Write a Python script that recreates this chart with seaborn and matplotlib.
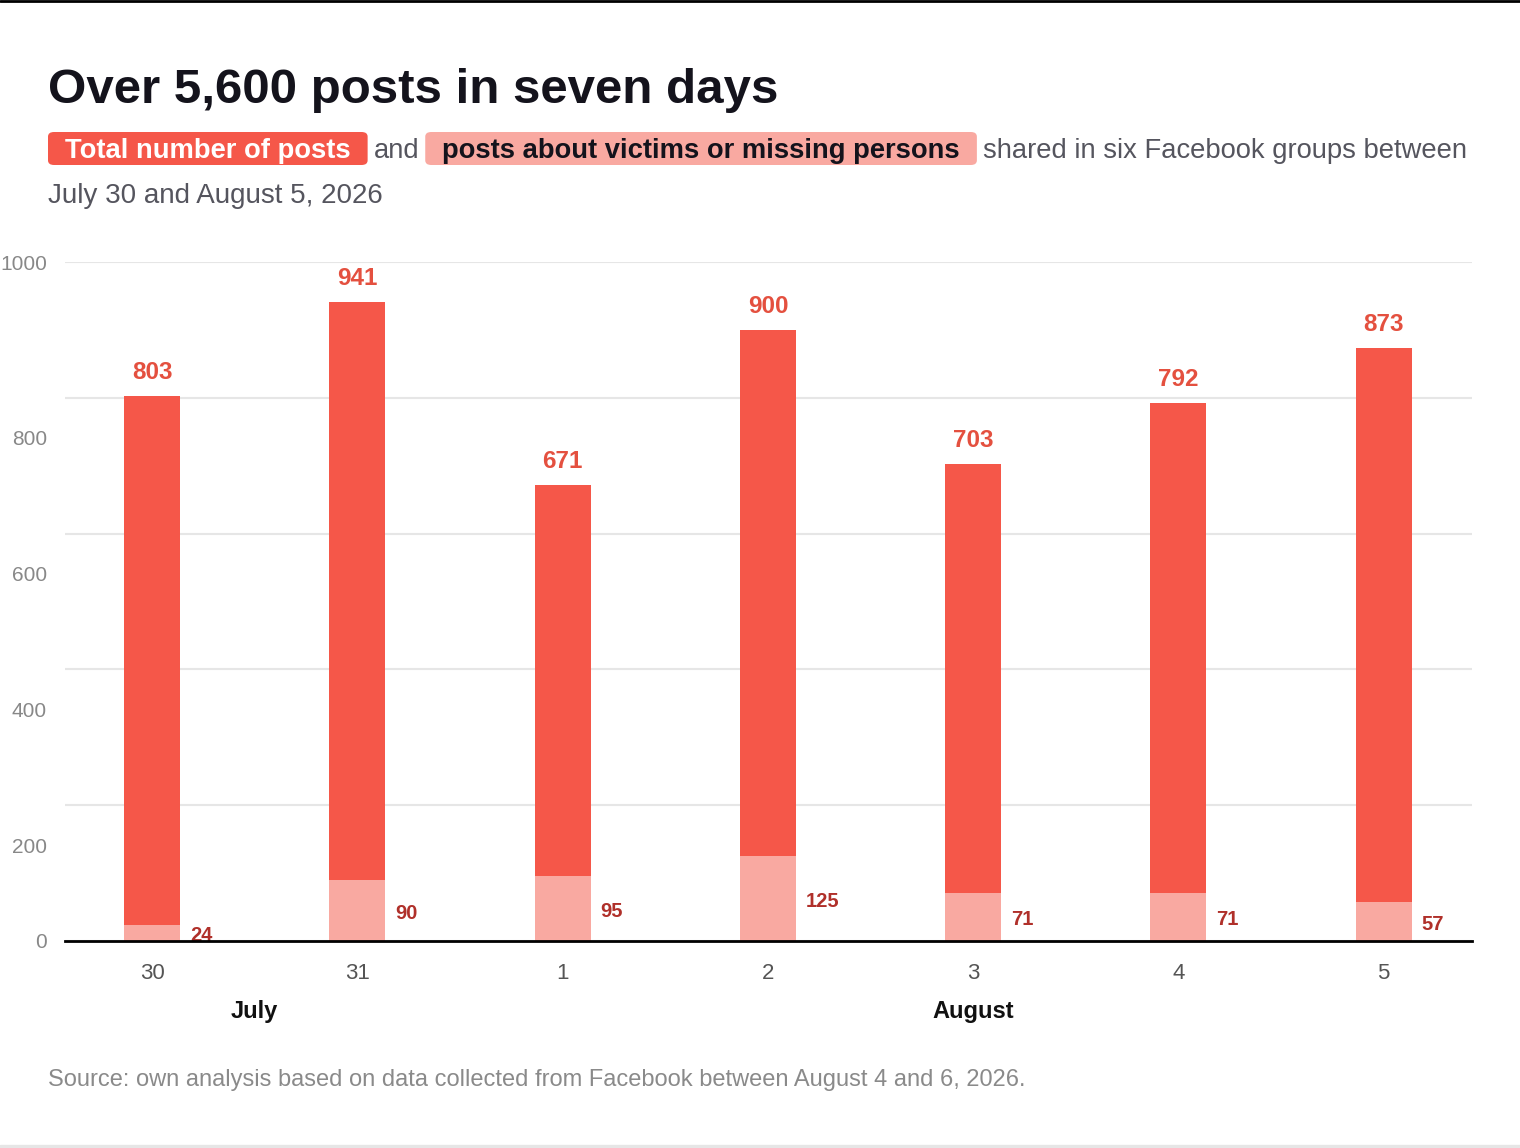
import pandas as pd
import matplotlib
matplotlib.use('Agg')
import matplotlib.pyplot as plt
import seaborn as sns
from matplotlib.patches import FancyBboxPatch, Rectangle
from matplotlib.lines import Line2D
from matplotlib.transforms import ScaledTranslation, blended_transform_factory

# data
days = ['30', '31', '1', '2', '3', '4', '5']
total_posts = [803, 941, 671, 900, 703, 792, 873]
victim_posts = [24, 90, 95, 125, 71, 71, 57]
months = ['July', 'August']
month_centres = [0.5, 4]
y_ticks = [0, 200, 400, 600, 800, 1000]

RED = '#F55749'
PINK = '#F9A9A1'
RED_TXT = '#E4503F'
DARK_RED_TXT = '#B0302A'
W, H = 1520, 1148

sns.set_style('white')
plt.rcParams['font.family'] = ['Liberation Sans', 'DejaVu Sans']

fig = plt.figure(figsize=(W / 100, H / 100), dpi=100)
ax = fig.add_axes([65 / W, 1 - 941 / H, (1472 - 65) / W, (941 - 262) / H])

df = pd.DataFrame({'day': days, 'total': total_posts, 'victims': victim_posts})
sns.barplot(data=df, x='day', y='total', order=days, color=RED, saturation=1,
            width=0.273, errorbar=None, linewidth=0, ax=ax, zorder=2)
sns.barplot(data=df, x='day', y='victims', order=days, color=PINK, saturation=1,
            width=0.273, errorbar=None, linewidth=0, ax=ax, zorder=3)

ax.set_xlim(-0.424, 6.43)
ax.set_ylim(0, 1000)
ax.set_xlabel('')
ax.set_ylabel('')
ax.set_yticks(y_ticks)
ax.yaxis.grid(True, color='#E6E6E6', lw=1.5)
ax.set_axisbelow(True)
for s in ['top', 'right', 'left']:
    ax.spines[s].set_visible(False)
ax.spines['bottom'].set_color('black')
ax.spines['bottom'].set_linewidth(2)
ax.spines['bottom'].set_zorder(5)
ax.tick_params(axis='x', length=0, pad=16, labelsize=16, labelcolor='#555555')
ax.tick_params(axis='y', length=0, pad=13, labelsize=15, labelcolor='#888888')

# the y labels in the original sit 40px under their gridlines (except 0 and 1000)
shift = ScaledTranslation(0, -0.4, fig.dpi_scale_trans)
for val, lab in zip(y_ticks, ax.get_yticklabels()):
    if val not in (0, 1000):
        lab.set_transform(lab.get_transform() + shift)

# value labels
for i, (t, v) in enumerate(zip(total_posts, victim_posts)):
    ax.annotate(str(t), (i, t), xytext=(0, 17), textcoords='offset points',
                ha='center', va='center', fontsize=17.5, fontweight='bold', color=RED_TXT)
    ax.annotate(str(v), (i + 0.273 / 2, v / 2), xytext=(7, -2), textcoords='offset points',
                ha='left', va='center', fontsize=14.5, fontweight='bold', color=DARK_RED_TXT)

trans = blended_transform_factory(ax.transData, ax.transAxes)
for m, pos in zip(months, month_centres):
    ax.text(pos, -0.1045, m, transform=trans, ha='center', va='center',
            fontsize=17, fontweight='bold', color='#111111')

# header
fig.text(48 / W, 1 - 103 / H, 'Over 5,600 posts in seven days', ha='left', va='baseline',
         fontsize=35.5, fontweight='bold', color='#14131C')

renderer = fig.canvas.get_renderer()
base = 1 - 158 / H
x = 48


def piece(x0, s, **kw):
    t = fig.text(x0 / W, base, s, ha='left', va='baseline', fontsize=19.7, **kw)
    bb = t.get_window_extent(renderer)
    return bb.x1


# red box piece
end = piece(x + 17, 'Total number of posts', fontweight='bold', color='white', zorder=3)
fig.add_artist(FancyBboxPatch((x / W, 1 - 165 / H), (end + 17 - x) / W, 33 / H,
                              boxstyle='round,pad=0,rounding_size=0.004', fc=RED, ec='none',
                              transform=fig.transFigure, zorder=2))
x = end + 17 + 6
end = piece(x, 'and', color='#55555E')
x = end + 6
end = piece(x + 17, 'posts about victims or missing persons', fontweight='bold',
            color='#14131C', zorder=3)
fig.add_artist(FancyBboxPatch((x / W, 1 - 165 / H), (end + 17 - x) / W, 33 / H,
                              boxstyle='round,pad=0,rounding_size=0.004', fc=PINK, ec='none',
                              transform=fig.transFigure, zorder=2))
x = end + 17 + 6
piece(x, 'shared in six Facebook groups between', color='#55555E')

fig.text(48 / W, 1 - 203 / H, 'July 30 and August 5, 2026', ha='left', va='baseline',
         fontsize=20, color='#55555E')

fig.text(48 / W, 1 - 1086 / H,
         'Source: own analysis based on data collected from Facebook between August 4 and 6, 2026.',
         ha='left', va='baseline', fontsize=17, color='#8A8A8A')

# frame lines of the screenshot
fig.add_artist(Line2D([0, 1], [1 - 1 / H, 1 - 1 / H], color='black', lw=2, transform=fig.transFigure))
fig.add_artist(Rectangle((0, 0), 1, 3 / H, color='#E6E6E6', transform=fig.transFigure))

fig.savefig('out.png', dpi=100)
